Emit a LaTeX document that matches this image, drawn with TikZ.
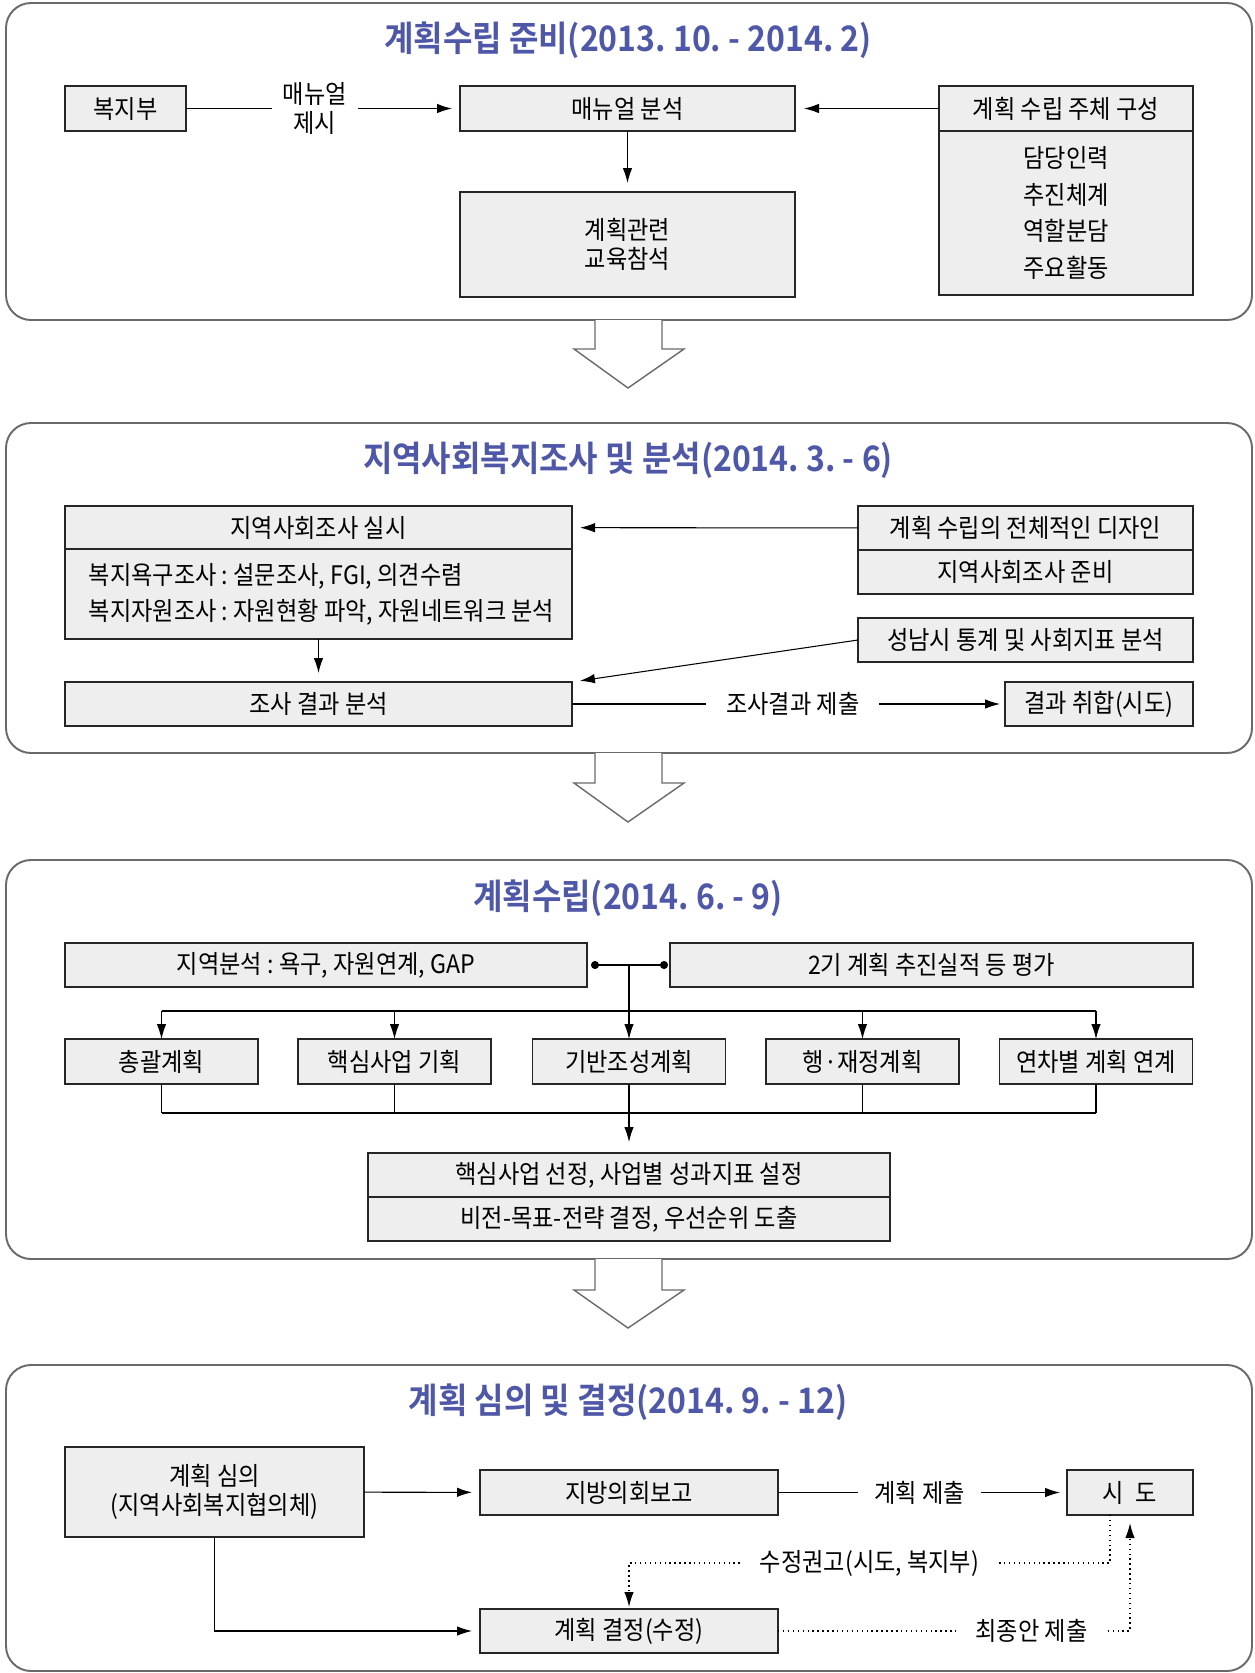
\documentclass[tikz,border=0pt]{standalone}
\usepackage{fontspec}
\setmainfont[FakeStretch=0.91,BoldFont={Noto Sans CJK KR Bold}]{Noto Sans CJK KR}
\usepackage{xcolor}
\usepackage{tikz}
\usetikzlibrary{arrows.meta}
\frenchspacing

\definecolor{ttlblue}{HTML}{4F58A8}
\definecolor{boxgray}{HTML}{EEEEEE}
\definecolor{framegray}{HTML}{6A6A6A}
\newlength\px
\setlength\px{0.2mm}

\begin{document}
\begin{tikzpicture}[x=0.2mm, y=-0.2mm, line width=0.6pt,
    >={Latex[length=3mm,width=1.9mm]},
    box/.style={rectangle, draw=black!85, fill=boxgray, line width=0.7pt, inner sep=0pt, outer sep=0pt,
        align=center, font=\fontsize{14.5pt}{5.8mm}\selectfont},
    lbl/.style={fill=white, inner xsep=20\px, inner ysep=2pt, align=center,
        font=\fontsize{14.5pt}{5.8mm}\selectfont},
    panel/.style={draw=framegray, line width=1.1pt, rounded corners=5mm},
    ttl/.style={text=ttlblue, font=\fontsize{20pt}{24pt}\selectfont\bfseries},
    bigarrow/.style={draw=framegray, line width=0.8pt, fill=white}]
    \useasboundingbox (0,0) rectangle (1254,1673);

    % stage 1
    \draw[panel] (6,3) rectangle (1252,320);
    \node[ttl] (ttl1) at (628,40) {계획수립 준비(2013. 10. - 2014. 2)};
    \node[box, minimum width=121\px, minimum height=45\px] (bokji) at (125.5,108.5) {복지부};
    \node[box, minimum width=335\px, minimum height=45\px] (manual) at (627.5,108.5) {매뉴얼 분석};
    \node[box, minimum width=335\px, minimum height=105\px] (edu) at (627.5,244.5) {계획관련\\교육참석};
    \node[box, minimum width=254\px, minimum height=45\px] (subj) at (1066,108.5) {계획 수립 주체 구성};
    \node[box, minimum width=254\px, minimum height=164\px, font=\fontsize{14.5pt}{7.3mm}\selectfont] (subjlist) at (1066,213) {담당인력\\추진체계\\역할분담\\주요활동};

    \draw[->, shorten >=8\px] (bokji) -- node[lbl, inner xsep=11\px, pos=0.47] {매뉴얼\\제시} (manual);
    \draw[->, shorten >=9\px] (subj) -- (manual);
    \draw[->, shorten >=9\px] (manual) -- (edu);

    % stage 2
    \draw[panel] (6,423) rectangle (1252,753);
    \node[ttl] (ttl2) at (628,460) {지역사회복지조사 및 분석(2014. 3. - 6)};
    \node[box, minimum width=507\px, minimum height=43\px] (survey) at (318.5,527.5) {지역사회조사 실시};
    \node[box, minimum width=507\px, minimum height=90\px, align=left,
        font=\fontsize{14.5pt}{7.2mm}\selectfont] (surveylist) at (318.5,594)
        {\hspace*{6\px}복지욕구조사 : 설문조사, FGI, 의견수렴\\\hspace*{6\px}복지자원조사 : 자원현황 파악, 자원네트워크 분석};
    \node[box, minimum width=335\px, minimum height=44\px] (design) at (1025.5,528) {계획 수립의 전체적인 디자인};
    \node[box, minimum width=335\px, minimum height=44\px] (prep) at (1025.5,572) {지역사회조사 준비};
    \node[box, minimum width=335\px, minimum height=44\px] (stats) at (1025.5,640) {성남시 통계 및 사회지표 분석};
    \node[box, minimum width=507\px, minimum height=44\px] (result) at (318.5,704) {조사 결과 분석};
    \node[box, minimum width=188\px, minimum height=44\px] (collect) at (1099,704) {결과 취합(시도)};

    \draw[->, shorten >=8\px] (design) -- (survey);
    \draw[->, shorten >=8\px] (stats.west) -- (result.north east);
    \draw[->, shorten >=9\px] (surveylist) -- (result);
    \draw[->, shorten >=5\px] (result) -- node[lbl, pos=0.51] {조사결과 제출} (collect);

    % stage 3
    \draw[panel] (6,860) rectangle (1252,1259);
    \node[ttl] (ttl3) at (628,898) {계획수립(2014. 6. - 9)};
    \node[box, minimum width=522\px, minimum height=44\px] (area) at (326,965) {지역분석 : 욕구, 자원연계, GAP};
    \node[box, minimum width=523\px, minimum height=44\px] (eval) at (931.5,965) {2기 계획 추진실적 등 평가};
    \foreach \n/\cx/\txt in {1/161.5/총괄계획, 2/394.5/핵심사업 기획, 3/629/기반조성계획,
        4/862.5/행·재정계획, 5/1096/연차별 계획 연계}
        \node[box, minimum width=193\px, minimum height=45\px] (plan\n) at (\cx,1061.5) {\txt};
    \node[box, minimum width=522\px, minimum height=44\px] (core) at (629,1175) {핵심사업 선정, 사업별 성과지표 설정};
    \node[box, minimum width=522\px, minimum height=44\px] (vision) at (629,1219) {비전-목표-전략 결정, 우선순위 도출};
    \coordinate (join) at (629,965);
    \coordinate (split) at (629,1011);
    \coordinate (merge) at (629,1113);

    \draw[{Circle[length=1.6mm]}-{Circle[length=1.6mm]}, shorten <=4\px, shorten >=2\px] (area) -- (eval);
    \draw (join) -- (split);
    \draw (split -| plan1) -- (split -| plan5);
    \foreach \n in {1,...,5}
        \draw[->] (split -| plan\n) -- (plan\n);
    \foreach \n in {1,2,4,5}
        \draw (plan\n) -- (merge -| plan\n);
    \draw (merge -| plan1) -- (merge -| plan5);
    \draw[->, shorten >=11\px] (plan3) -- (core);

    % stage 4
    \draw[panel] (6,1365) rectangle (1252,1671);
    \node[ttl] (ttl4) at (628,1402) {계획 심의 및 결정(2014. 9. - 12)};
    \node[box, minimum width=299\px, minimum height=90\px] (review) at (214.5,1492) {계획 심의\\(지역사회복지협의체)};
    \node[box, minimum width=298\px, minimum height=45\px] (report) at (629,1492.5) {지방의회보고};
    \node[box, minimum width=126\px, minimum height=45\px] (sido) at (1130,1492.5) {시\hspace{2.4mm}도};
    \node[box, minimum width=298\px, minimum height=44\px] (decide) at (629,1631) {계획 결정(수정)};
    \coordinate (revise) at (629,1563);

    \draw[->, shorten >=8\px] (review) -- (report);
    \draw[->, shorten >=7\px] (report) -- node[lbl, inner xsep=16\px, pos=0.49] {계획 제출} (sido);
    \draw[->, shorten >=8\px] (review) |- (decide);
    \draw[dotted, line width=0.8pt, ->, shorten >=2\px] ([xshift=-20\px]sido.south) |- node[lbl, pos=0.75] {수정권고(시도, 복지부)} (revise) -- (decide);
    \draw[dotted, line width=0.8pt, ->, shorten >=8\px] (decide) -- node[lbl, pos=0.72] {최종안 제출} (decide -| sido) -- (sido);

    % stage arrows
    \foreach \top/\base/\tip in {320/349/388, 753/783/822, 1259/1290/1328}
        \draw[bigarrow] (595,\top) -- (595,\base) -- (574,\base) -- (628,\tip) -- (684,\base) -- (662,\base) -- (662,\top);
\end{tikzpicture}
\end{document}
